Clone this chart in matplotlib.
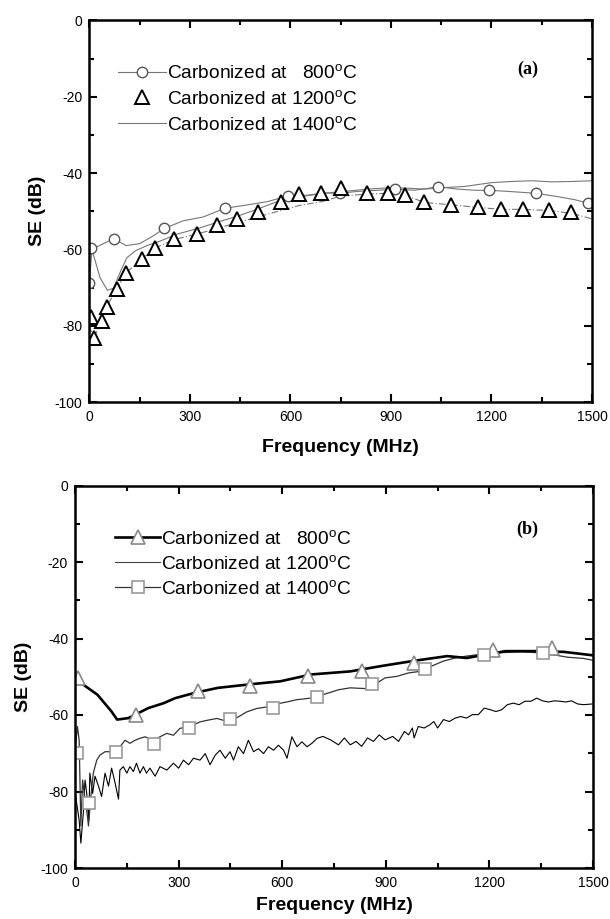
import matplotlib
matplotlib.use("Agg")
import matplotlib.pyplot as plt
from matplotlib.ticker import MultipleLocator

plt.rcParams['font.family'] = ['Liberation Sans', 'DejaVu Sans']
plt.rcParams['mathtext.fontset'] = 'custom'
plt.rcParams['mathtext.rm'] = 'Liberation Sans'
plt.rcParams['mathtext.it'] = 'Liberation Sans'
plt.rcParams['axes.unicode_minus'] = False

# ---------------- Panel (a) data ----------------
a800_f = [0, 8, 30, 73, 110, 150, 190, 224, 280, 340, 405, 460, 530, 593, 650, 700, 748, 800, 860, 913,
          970, 1041, 1100, 1150, 1192, 1250, 1334, 1400, 1450, 1488, 1500]
a800_v = [-69, -60, -59, -57.2, -59, -58.5, -56.5, -54.5, -52.5, -51.5, -49.2, -48.5, -47.5, -46, -45.8,
          -45.2, -45.3, -44.8, -44.5, -44.2, -44.5, -43.6, -44.2, -44.5, -44.5, -44.8, -45.3, -46.2, -47,
          -47.9, -48]
a800_mf = [0, 5, 73, 224, 405, 593, 748, 913, 1041, 1192, 1334, 1488]
a800_mv = [-68.8, -59.6, -57.2, -54.5, -49.2, -46, -45.3, -44.2, -43.6, -44.5, -45.3, -47.9]

a1200_f = [0, 8, 14, 25, 37, 52, 82, 110, 157, 197, 254, 320, 382, 440, 502, 572, 626, 692, 752, 829,
           892, 943, 1000, 1078, 1161, 1227, 1293, 1371, 1438, 1500]
a1200_v = [-80, -82, -83, -81, -78.7, -75, -70.3, -66.1, -62.6, -59.6, -57.4, -56, -54.5, -53, -51.5,
           -49.8, -48.5, -47.5, -46, -45.5, -45.3, -45.8, -47.7, -48.3, -49, -49.5, -49.5, -49.8, -50.5, -52]
a1200_mf = [5, 14, 37, 52, 82, 110, 157, 197, 254, 320, 382, 440, 502, 572, 626, 692, 752, 829, 892,
            943, 1000, 1078, 1161, 1227, 1293, 1371, 1438]
a1200_mv = [-77.8, -83.3, -78.7, -75, -70.3, -66.1, -62.6, -59.6, -57.4, -56, -53.7, -52, -50.3, -47.7,
            -45.5, -45.3, -43.8, -45.1, -45.3, -45.8, -47.7, -48.3, -49, -49.5, -49.3, -49.6, -50.2]

a1400_f = [0, 12, 32, 54, 72, 92, 112, 137, 172, 212, 262, 332, 392, 442, 500, 560, 620, 700, 760, 830,
           900, 960, 1000, 1060, 1120, 1200, 1260, 1320, 1380, 1440, 1500]
a1400_v = [-59.5, -61.3, -67.4, -70.7, -70.2, -66, -62.2, -60.4, -59, -57.8, -56, -54.3, -52.6, -51.3,
           -49.5, -47.5, -46.3, -45.3, -44.8, -44.2, -43.8, -44, -44.2, -43.8, -43.5, -42.5, -42.2, -42,
           -42.3, -42.2, -42]

# ---------------- Panel (b) data ----------------
b800_f = [0, 26, 65, 105, 122, 155, 212, 257, 290, 347, 414, 515, 594, 684, 797, 887, 977, 1078, 1134,
          1191, 1247, 1337, 1416, 1500]
b800_v = [-50.3, -52.2, -54.7, -59, -61.2, -60.8, -58.2, -56.9, -55.6, -54.2, -52.9, -51.9, -51.2, -49.4,
          -48.6, -47.2, -45.9, -44.6, -45.1, -44.2, -43.3, -43.3, -43.5, -44.4]
b800_mf = [9, 178, 356, 508, 676, 830, 983, 1211, 1382]
b800_mv = [-50.3, -59.9, -53.8, -52.5, -49.9, -48.6, -46.4, -42.9, -42.4]

b1200_f = [0, 12, 17, 24, 29, 34, 40, 43, 51, 58, 68, 77, 87, 97, 106, 116, 126, 130, 140, 150, 159, 169,
           178, 188, 198, 207, 217, 232, 246, 266, 285, 300, 314, 329, 343, 362, 377, 391, 406, 420, 435,
           449, 459, 473, 488, 502, 517, 531, 546, 560, 575, 589, 604, 614, 628, 643, 657, 672, 686, 701,
           718, 740, 763, 780, 797, 814, 830, 847, 864, 881, 898, 920, 937, 954, 966, 977, 982, 994, 1011,
           1027, 1039, 1050, 1067, 1084, 1101, 1117, 1134, 1151, 1168, 1185, 1202, 1219, 1236, 1252, 1269,
           1286, 1303, 1320, 1337, 1354, 1371, 1388, 1404, 1421, 1438, 1455, 1472, 1500]
b1200_v = [-80, -87.5, -93.5, -85.7, -77, -80.5, -87.5, -75.2, -80.5, -76, -78.6, -81.3, -75.2, -78.6,
           -73.9, -77.7, -82, -74.4, -73.5, -75.2, -73.5, -74.8, -72.6, -75.2, -73.5, -75.2, -73.9, -76,
           -73.5, -74.4, -72.6, -73.9, -71.8, -73, -71.3, -71.8, -70.1, -73, -70.5, -69.2, -71.3, -69.6,
           -71.8, -68.3, -70.1, -66.6, -69.6, -68.8, -70.1, -68.3, -69.2, -67.9, -69.2, -71.3, -65.7, -68.3,
           -67, -68.3, -67.4, -66.1, -65.6, -66.5, -67.8, -66, -67.8, -66.9, -68.2, -66, -66.9, -65.2,
           -66.5, -65.6, -66.9, -64.3, -65.2, -63.4, -66, -63, -63.4, -62.6, -61.7, -63.4, -61.2, -61.7,
           -60.8, -60.4, -60.8, -59.9, -59.9, -58.2, -58.6, -59.1, -58.6, -57.3, -56.9, -57.3, -56.4,
           -56.4, -55.6, -56.3, -56.6, -56.3, -56.4, -56.6, -56.3, -57.1, -57.3, -57.1]

b1400_f = [0, 7, 12, 17, 22, 29, 34, 39, 45, 53, 63, 72, 87, 101, 116, 130, 145, 159, 174, 188, 203, 227,
           246, 266, 285, 304, 324, 343, 362, 382, 411, 430, 469, 497, 526, 555, 584, 613, 642, 672, 701,
           718, 763, 797, 842, 875, 898, 932, 966, 999, 1033, 1067, 1101, 1134, 1168, 1202, 1236, 1292,
           1337, 1382, 1427, 1472, 1500]
b1400_v = [-69.6, -63, -66.5, -89, -77, -82.2, -84.9, -89, -82.2, -75.2, -71.8, -70.5, -69.6, -69.6,
           -69.2, -68.3, -66.6, -67.4, -66.6, -66.1, -65.7, -66.6, -65.7, -64.8, -65.3, -63.5, -63.1,
           -62.6, -61.8, -61.4, -60.9, -61.4, -60.7, -59.2, -58.3, -57.9, -57.1, -56.6, -56, -55.7, -55.3,
           -54.7, -53.4, -52.9, -53.1, -51.6, -50.3, -49.9, -49, -48.6, -47.2, -45.9, -45.1, -44.6, -44.2,
           -44, -43.7, -43.5, -43.7, -44.2, -44.9, -45.2, -45.7]
b1400_mf = [5, 40, 119, 228, 330, 448, 572, 701, 859, 1014, 1185, 1354]
b1400_mv = [-70, -83, -69.6, -67.5, -63.5, -61, -58.2, -55.4, -52, -48.1, -44.2, -43.7]

lab800 = r'Carbonized at   800$^\mathrm{o}$C'
lab1200 = r'Carbonized at 1200$^\mathrm{o}$C'
lab1400 = r'Carbonized at 1400$^\mathrm{o}$C'

fig = plt.figure(figsize=(6.10, 9.19), dpi=100)
axa = fig.add_axes([89.3 / 610, (919 - 402) / 919, 502.7 / 610, 381.5 / 919])
axb = fig.add_axes([75 / 610, (919 - 868) / 919, 518 / 610, 382.5 / 919])


def style(ax, ylab_x, xlab_y):
    ax.set_xlim(0, 1500)
    ax.set_ylim(-100, 0)
    ax.xaxis.set_major_locator(MultipleLocator(300))
    ax.xaxis.set_minor_locator(MultipleLocator(150))
    ax.yaxis.set_major_locator(MultipleLocator(20))
    ax.yaxis.set_minor_locator(MultipleLocator(10))
    for s in ax.spines.values():
        s.set_linewidth(1.8)
    ax.tick_params(which='both', direction='in', top=True, right=True, width=1.5)
    ax.tick_params(which='major', length=6)
    ax.tick_params(which='minor', length=3.5)
    ax.tick_params(axis='x', which='major', pad=6, labelsize=10)
    ax.tick_params(axis='y', which='major', pad=5, labelsize=10)
    ax.set_xlabel('Frequency (MHz)', fontsize=14, fontweight='bold', va='center')
    ax.set_ylabel('SE (dB)', fontsize=14, fontweight='bold', va='center')
    ax.xaxis.set_label_coords(0.5, xlab_y)
    ax.yaxis.set_label_coords(ylab_x, 0.5)


# ---- panel (a)
ax = axa
ax.plot(a800_f, a800_v, color='#777777', lw=0.8)
ax.plot(a1200_f, a1200_v, color='#777777', lw=0.8, ls=(0, (6, 2, 1, 2)))
ax.plot(a1400_f, a1400_v, color='#777777', lw=0.8)
ax.plot(a800_mf, a800_mv, ls='none', marker='o', ms=7.5, mfc='white', mec='#555555', mew=1.0)
ax.plot(a1200_mf, a1200_mv, ls='none', marker='^', ms=9.5, mfc='white', mec='black', mew=1.4)
h1, = ax.plot([], [], color='#777777', lw=0.8, marker='o', ms=7.5, mfc='white', mec='#555555', mew=1.0)
h2, = ax.plot([], [], ls='none', marker='^', ms=9.5, mfc='white', mec='black', mew=1.4)
h3, = ax.plot([], [], color='#777777', lw=0.8)
ax.legend([h1, h2, h3], [lab800, lab1200, lab1400], loc='upper left',
          bbox_to_anchor=(0.058, 0.885), frameon=False, fontsize=13.8,
          handlelength=2.5, handletextpad=0.05, labelspacing=0.4, borderpad=0, borderaxespad=0)
ax.text(0.873, 0.873, '(a)', transform=ax.transAxes, fontsize=13, fontweight='bold',
        family=['Liberation Serif', 'DejaVu Serif'], ha='center', va='center')
style(ax, -0.104, -0.118)

# ---- panel (b)
ax = axb
ax.plot(b1200_f, b1200_v, color='black', lw=0.8)
ax.plot(b1400_f, b1400_v, color='#333333', lw=0.9)
ax.plot(b800_f, b800_v, color='black', lw=1.9)
ax.plot(b800_mf, b800_mv, ls='none', marker='^', ms=10, mfc='white', mec='#888888', mew=1.2)
ax.plot(b1400_mf, b1400_mv, ls='none', marker='s', ms=8, mfc='white', mec='#999999', mew=1.2)
g1, = ax.plot([], [], color='black', lw=1.9, marker='^', ms=10, mfc='white', mec='#888888', mew=1.2)
g2, = ax.plot([], [], color='#444444', lw=0.8)
g3, = ax.plot([], [], color='#333333', lw=0.9, marker='s', ms=8, mfc='white', mec='#999999', mew=1.2)
ax.legend([g1, g2, g3], [lab800, lab1200, lab1400], loc='upper left',
          bbox_to_anchor=(0.078, 0.884), frameon=False, fontsize=13.8,
          handlelength=2.35, handletextpad=0.05, labelspacing=0.36, borderpad=0, borderaxespad=0)
ax.text(0.874, 0.886, '(b)', transform=ax.transAxes, fontsize=13, fontweight='bold',
        family=['Liberation Serif', 'DejaVu Serif'], ha='center', va='center')
style(ax, -0.1, -0.097)

fig.savefig('out.png', dpi=100)
